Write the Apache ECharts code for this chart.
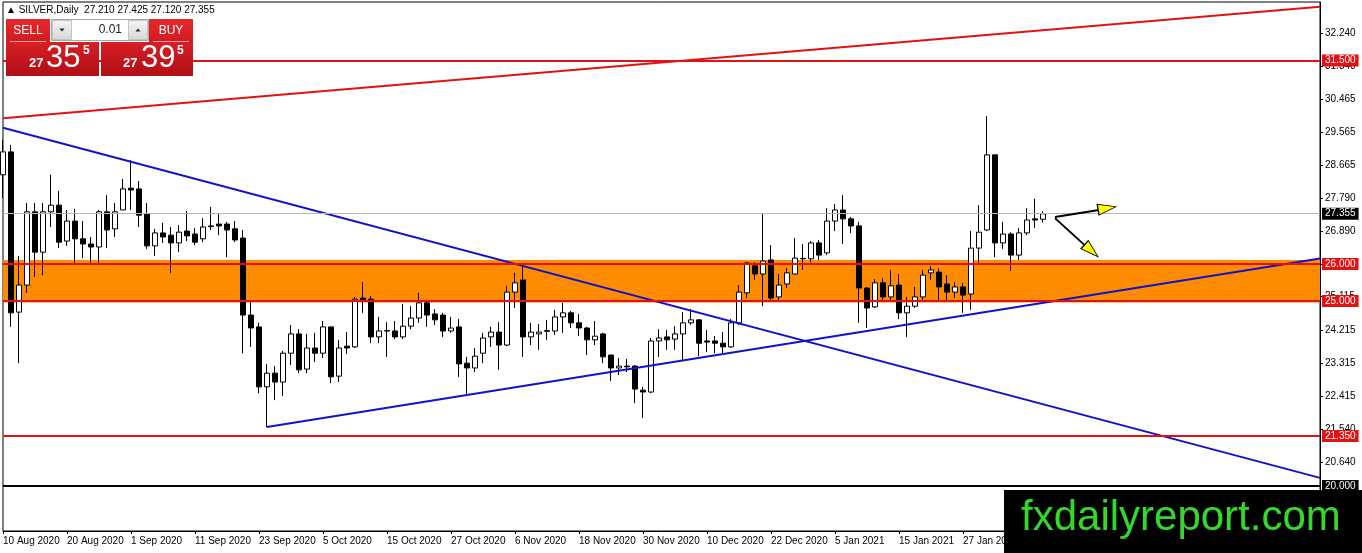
<!DOCTYPE html>
<html>
<head>
<meta charset="utf-8">
<title>SILVER,Daily</title>
<script src="https://cdn.jsdelivr.net/npm/echarts@6/dist/echarts.min.js"></script>
<style>
    html, body { margin: 0; padding: 0; background: #fff; }
    #chart { width: 1362px; height: 553px; }
</style>
</head>
<body>
<div id="chart"></div>
<script>
    // daily bars, MT4 order: open, high, low, close
    var candles = [
        [28.41, 29.35, 27.78, 29.03], [29.03, 29.22, 24.30, 24.68], [24.70, 26.22, 23.32, 25.43], [25.43, 27.65, 25.22, 27.41],
        [27.41, 27.65, 25.65, 26.32], [26.32, 27.65, 25.70, 27.41], [27.41, 28.41, 27.00, 27.59], [27.59, 27.97, 26.43, 26.59],
        [26.62, 27.46, 26.49, 27.16], [27.16, 27.49, 26.03, 26.68], [26.68, 27.16, 26.16, 26.54], [26.54, 26.73, 26.03, 26.46],
        [26.46, 27.46, 26.03, 27.41], [27.41, 27.86, 26.43, 26.92], [26.95, 27.65, 26.73, 27.41], [27.46, 28.30, 27.46, 28.03],
        [28.05, 28.81, 27.46, 28.00], [28.03, 28.24, 27.00, 27.32], [27.35, 27.65, 26.41, 26.49], [26.49, 26.95, 26.22, 26.84],
        [26.84, 27.11, 26.57, 26.73], [26.78, 27.00, 25.76, 26.57], [26.57, 27.05, 26.32, 26.86], [26.89, 27.43, 26.62, 26.76],
        [26.81, 26.97, 26.51, 26.59], [26.68, 27.24, 26.59, 27.00], [27.01, 27.54, 26.92, 27.03], [27.08, 27.38, 26.78, 27.03],
        [27.08, 27.14, 26.19, 26.92], [26.95, 27.16, 26.59, 26.65], [26.70, 26.92, 23.59, 24.62], [24.62, 25.03, 23.76, 24.27],
        [24.30, 24.41, 22.51, 22.68], [22.68, 23.30, 21.59, 23.05], [23.05, 23.24, 22.32, 22.81], [22.81, 23.65, 22.43, 23.59],
        [23.59, 24.35, 23.27, 24.11], [24.11, 24.24, 23.05, 23.14], [23.16, 24.11, 23.05, 23.73], [23.73, 24.14, 23.35, 23.59],
        [23.59, 24.46, 23.46, 24.30], [24.30, 24.30, 22.78, 22.95], [22.97, 23.95, 22.81, 23.73], [23.78, 24.16, 23.57, 23.73],
        [23.76, 25.11, 23.73, 25.05], [25.08, 25.51, 24.68, 25.00], [25.05, 25.14, 23.86, 24.03], [24.03, 24.57, 23.86, 24.19],
        [24.20, 24.43, 23.49, 24.19], [24.19, 24.46, 23.97, 24.03], [24.03, 24.92, 23.97, 24.32], [24.32, 24.86, 24.24, 24.54],
        [24.54, 25.22, 24.41, 24.95], [24.95, 25.03, 24.30, 24.62], [24.65, 24.78, 24.35, 24.49], [24.62, 24.68, 24.03, 24.19],
        [24.19, 24.57, 24.14, 24.27], [24.30, 24.51, 22.95, 23.30], [23.32, 23.49, 22.46, 23.19], [23.19, 23.73, 23.08, 23.51],
        [23.59, 24.14, 23.32, 24.00], [24.03, 24.30, 23.76, 24.16], [24.16, 24.43, 23.14, 23.81], [23.81, 25.41, 23.78, 25.24],
        [25.24, 25.76, 24.81, 25.49], [25.57, 25.97, 23.49, 24.03], [24.03, 24.41, 23.81, 24.16], [24.11, 24.38, 23.68, 24.16],
        [24.18, 24.49, 23.95, 24.20], [24.19, 24.76, 24.08, 24.57], [24.57, 24.95, 24.14, 24.68], [24.68, 24.73, 24.27, 24.41],
        [24.41, 24.65, 24.05, 24.27], [24.27, 24.30, 23.54, 23.95], [23.95, 24.46, 23.81, 24.05], [24.11, 24.14, 23.32, 23.49],
        [23.54, 23.54, 22.84, 23.19], [23.19, 23.46, 23.00, 23.24], [23.24, 23.43, 23.08, 23.22], [23.24, 23.27, 22.24, 22.62],
        [22.59, 22.68, 21.84, 22.54], [22.54, 24.00, 22.51, 23.92], [23.92, 24.24, 23.49, 24.00], [24.03, 24.22, 23.68, 23.95],
        [23.97, 24.32, 23.68, 24.11], [24.11, 24.70, 23.41, 24.41], [24.41, 24.78, 24.35, 24.49], [24.49, 24.51, 23.51, 23.86],
        [23.92, 24.22, 23.62, 23.89], [23.92, 24.05, 23.59, 23.86], [23.86, 24.16, 23.54, 23.76], [23.76, 24.51, 23.73, 24.41],
        [24.41, 25.43, 24.35, 25.24], [25.22, 26.05, 25.08, 26.03], [25.95, 26.05, 25.57, 25.73], [25.73, 27.38, 24.86, 26.08],
        [26.11, 26.51, 25.00, 25.08], [25.11, 25.73, 25.00, 25.43], [25.46, 25.89, 25.35, 25.76], [25.73, 26.70, 25.73, 26.16],
        [26.14, 26.54, 25.84, 26.15], [26.14, 26.62, 26.05, 26.57], [26.57, 26.65, 26.11, 26.24], [26.30, 27.51, 26.24, 27.16],
        [27.16, 27.62, 26.89, 27.46], [27.46, 27.86, 26.54, 27.22], [27.22, 27.27, 26.84, 27.03], [27.03, 27.14, 24.41, 25.35],
        [25.35, 25.38, 24.27, 24.81], [24.84, 25.59, 24.81, 25.49], [25.49, 25.62, 25.03, 25.11], [25.11, 25.84, 25.03, 25.41],
        [25.43, 25.73, 24.51, 24.68], [24.68, 25.11, 24.03, 24.86], [24.86, 25.38, 24.81, 25.11], [25.11, 25.84, 25.03, 25.70],
        [25.76, 25.95, 25.57, 25.84], [25.78, 25.89, 24.97, 25.38], [25.46, 25.70, 24.97, 25.24], [25.24, 25.51, 25.08, 25.38],
        [25.38, 25.49, 24.68, 25.16], [25.19, 26.89, 24.76, 26.43], [26.43, 27.59, 26.03, 26.86], [26.92, 30.00, 26.89, 28.95],
        [28.95, 28.95, 26.19, 26.57], [26.57, 27.14, 26.41, 26.81], [26.81, 26.86, 25.81, 26.24], [26.24, 26.97, 26.11, 26.84],
        [26.84, 27.51, 26.78, 27.19], [27.22, 27.76, 26.97, 27.19], [27.21, 27.425, 27.12, 27.355]
    ];

    // time axis labels (bar number -> date)
    var dateLabelBars = [0, 8, 16, 24, 32, 40, 48, 56, 64, 72, 80, 88, 96, 104, 112, 120];
    var dateLabels = ['10 Aug 2020', '20 Aug 2020', '1 Sep 2020', '11 Sep 2020', '23 Sep 2020', '5 Oct 2020',
        '15 Oct 2020', '27 Oct 2020', '6 Nov 2020', '18 Nov 2020', '30 Nov 2020', '10 Dec 2020',
        '22 Dec 2020', '5 Jan 2021', '15 Jan 2021', '27 Jan 2021'];

    // price scale labels
    var priceTicks = [32.240, 31.340, 30.465, 29.565, 28.665, 27.790, 26.890, 25.990, 25.115, 24.215, 23.315, 22.415, 21.540, 20.640];

    // drawn objects
    var redLevels = [31.5, 26, 25, 21.35];
    var lastPrice = 27.355;
    var floorLevel = 20;
    var zone = [24.96, 26.11];
    var redTrend = [[0, 29.94], [164.625, 32.95]];
    var blueDown = [[0, 29.68], [164.625, 20.22]];
    var blueUp = [[33, 21.595], [164.625, 26.15]];
    var arrowShafts = [[[131.5, 27.27], [137.0, 27.46]], [[131.5, 27.24], [135.2, 26.51]]];
    var arrowHeads = [[138.0, 27.508], [136.04, 26.36]];

    var RED = '#e21212';
    var BLUE = '#1212c8';
    var FONT = 'Liberation Sans';

    var mychart = echarts.init(document.getElementById('chart'));

    var bars = candles.map(function (c, i) {
        return [i, c[0], c[3], c[2], c[1]];
    });

    function tag(bg) {
        return {
            show: true,
            position: 'end',
            distance: 2,
            formatter: '{b}',
            color: '#fff',
            backgroundColor: bg,
            fontFamily: FONT,
            fontSize: 10,
            lineHeight: 11,
            padding: [1, 3, 0, 3]
        };
    }

    function trendLine(name, pts, color) {
        return {
            name: name,
            type: 'line',
            data: pts,
            symbol: 'none',
            silent: true,
            z: 4,
            lineStyle: {color: color, width: 2}
        };
    }

    function level(v, color, width, bg) {
        return {name: v.toFixed(3), yAxis: v, lineStyle: {color: color, width: width, type: 'solid'}, label: tag(bg)};
    }

    var levelLines = redLevels.map(function (v) { return level(v, RED, 2, RED); });
    levelLines.push(level(lastPrice, '#b4b4b4', 1, '#000'));
    levelLines.push(level(floorLevel, '#000', 2, '#000'));

    var redGrad = function (c0, c1) {
        return {type: 'linear', x: 0, y: 0, x2: 0, y2: 1, colorStops: [{offset: 0, color: c0}, {offset: 1, color: c1}]};
    };
    var greyGrad = {type: 'linear', x: 0, y: 0, x2: 0, y2: 1, colorStops: [{offset: 0, color: '#f6f6f6'}, {offset: 1, color: '#d6d6d6'}]};

    function txt(text, x, y, size, align, weight) {
        return {
            type: 'text', z: 101,
            style: {text: text, x: x, y: y, fill: '#fff', font: (weight || 'normal') + ' ' + size + 'px "' + FONT + '"',
                textAlign: align || 'left', textVerticalAlign: 'middle'}
        };
    }

    var graphics = [
        // header line
        {type: 'text', z: 100, style: {text: '\u25B2 SILVER,Daily  27.210 27.425 27.120 27.355', x: 6, y: 10,
            fill: '#000', font: '10px "' + FONT + '"', textVerticalAlign: 'middle'}},
        // one click trading panel
        {type: 'rect', z: 100, shape: {x: 6, y: 19, width: 44, height: 23}, style: {fill: redGrad('#e6282c', '#d21c21')}},
        {type: 'rect', z: 100, shape: {x: 6, y: 42, width: 93, height: 34}, style: {fill: redGrad('#d62024', '#b10f16')}},
        {type: 'rect', z: 100, shape: {x: 149, y: 19, width: 44, height: 23}, style: {fill: redGrad('#e6282c', '#d21c21')}},
        {type: 'rect', z: 100, shape: {x: 101, y: 42, width: 92, height: 34}, style: {fill: redGrad('#d62024', '#b10f16')}},
        {type: 'line', z: 101, shape: {x1: 10, y1: 41.5, x2: 46, y2: 41.5}, style: {stroke: '#f2a0a0', lineWidth: 1}},
        {type: 'line', z: 101, shape: {x1: 153, y1: 41.5, x2: 189, y2: 41.5}, style: {stroke: '#f2a0a0', lineWidth: 1}},
        {type: 'rect', z: 100, shape: {x: 51.5, y: 19.5, width: 97, height: 21}, style: {fill: '#fff', stroke: '#a8a8a8', lineWidth: 1}},
        {type: 'rect', z: 101, shape: {x: 52.5, y: 20.5, width: 19, height: 19}, style: {fill: greyGrad, stroke: '#c4c4c4', lineWidth: 1}},
        {type: 'rect', z: 101, shape: {x: 128.5, y: 20.5, width: 19, height: 19}, style: {fill: greyGrad, stroke: '#c4c4c4', lineWidth: 1}},
        {type: 'polygon', z: 102, shape: {points: [[59.5, 28.5], [64.5, 28.5], [62, 31.5]]}, style: {fill: '#222'}},
        {type: 'polygon', z: 102, shape: {points: [[135.5, 31.5], [140.5, 31.5], [138, 28.5]]}, style: {fill: '#222'}},
        {type: 'text', z: 101, style: {text: '0.01', x: 122, y: 30, fill: '#222', font: '12px "' + FONT + '"',
            textAlign: 'right', textVerticalAlign: 'middle'}},
        txt('SELL', 28, 30.5, 12, 'center'),
        txt('BUY', 171, 30.5, 12, 'center'),
        txt('27', 29, 63, 13, 'left', 'bold'),
        txt('35', 46, 58, 31),
        txt('5', 83, 51, 12, 'left', 'bold'),
        txt('27', 123, 63, 13, 'left', 'bold'),
        txt('39', 141, 58, 31),
        txt('5', 177, 51, 12, 'left', 'bold'),
        // watermark
        {type: 'rect', z: 110, shape: {x: 1004, y: 490, width: 358, height: 63}, style: {fill: '#000'}},
        {type: 'text', z: 111, style: {text: 'fxdailyreport.com', x: 1021, y: 518, fill: '#33d92a',
            font: '42px "' + FONT + '"', textVerticalAlign: 'middle'}}
    ];

    var option = {
        animation: false,
        backgroundColor: '#fff',
        grid: {
            left: 3, right: 42, top: 2, bottom: 22,
            show: true, borderColor: '#000', borderWidth: 1, backgroundColor: '#fff',
            containLabel: false, outerBoundsMode: 'none'
        },
        xAxis: {
            type: 'value',
            min: 0,
            max: 164.625,
            splitLine: {show: false},
            axisLine: {show: true, onZero: false, lineStyle: {color: '#000', width: 1}},
            axisTick: {show: true, customValues: dateLabelBars, length: 3, lineStyle: {color: '#000'}},
            axisLabel: {
                customValues: dateLabelBars,
                formatter: function (v) {
                    var k = dateLabelBars.indexOf(Math.round(v));
                    return k < 0 ? '' : dateLabels[k];
                },
                align: 'left',
                margin: 5,
                color: '#000',
                fontFamily: FONT,
                fontSize: 10
            }
        },
        yAxis: {
            type: 'value',
            position: 'right',
            min: 18.784,
            max: 33.081,
            scale: true,
            splitLine: {show: false},
            axisLine: {show: true, onZero: false, lineStyle: {color: '#000', width: 1}},
            axisTick: {show: true, customValues: priceTicks, length: 3, lineStyle: {color: '#000'}},
            axisLabel: {
                customValues: priceTicks,
                formatter: function (v) { return v.toFixed(3); },
                margin: 5,
                color: '#000',
                fontFamily: FONT,
                fontSize: 10
            }
        },
        graphic: {elements: graphics},
        series: [
            {
                name: 'zone',
                type: 'line',
                data: [[0, zone[0]], [0, zone[1]]],
                symbol: 'none',
                lineStyle: {opacity: 0},
                silent: true,
                z: 1,
                markArea: {
                    silent: true,
                    itemStyle: {color: '#ff8c00', opacity: 1},
                    data: [[{yAxis: zone[0]}, {yAxis: zone[1]}]]
                }
            },
            {
                name: 'SILVER',
                type: 'candlestick',
                data: bars,
                encode: {x: 0, y: [1, 2, 3, 4]},
                barWidth: 5,
                z: 3,
                itemStyle: {
                    color: '#ffffff',
                    color0: '#000000',
                    borderColor: '#000000',
                    borderColor0: '#000000',
                    borderWidth: 1
                }
            },
            trendLine('channel top', redTrend, RED),
            trendLine('falling', blueDown, BLUE),
            trendLine('rising', blueUp, BLUE),
            {
                name: 'levels',
                type: 'line',
                data: [[0, lastPrice]],
                symbol: 'none',
                lineStyle: {opacity: 0},
                clip: false,
                silent: true,
                z: 5,
                markLine: {
                    silent: true,
                    symbol: 'none',
                    animation: false,
                    data: levelLines
                }
            }
        ].concat(arrowShafts.map(function (s, k) {
            return {
                name: 'arrow' + k,
                type: 'line',
                data: s,
                symbol: 'none',
                silent: true,
                clip: false,
                z: 6,
                lineStyle: {color: '#000', width: 2}
            };
        })).concat([{
            name: 'heads',
            type: 'scatter',
            data: arrowHeads.map(function (p, k) {
                return {value: p, symbolRotate: [-80.4, -132][k]};
            }),
            symbol: 'triangle',
            symbolSize: [11, 18],
            silent: true,
            clip: false,
            z: 7,
            itemStyle: {color: '#ffff00', borderColor: '#000', borderWidth: 1, opacity: 1}
        }])
    };

    mychart.setOption(option);
</script>
</body>
</html>
